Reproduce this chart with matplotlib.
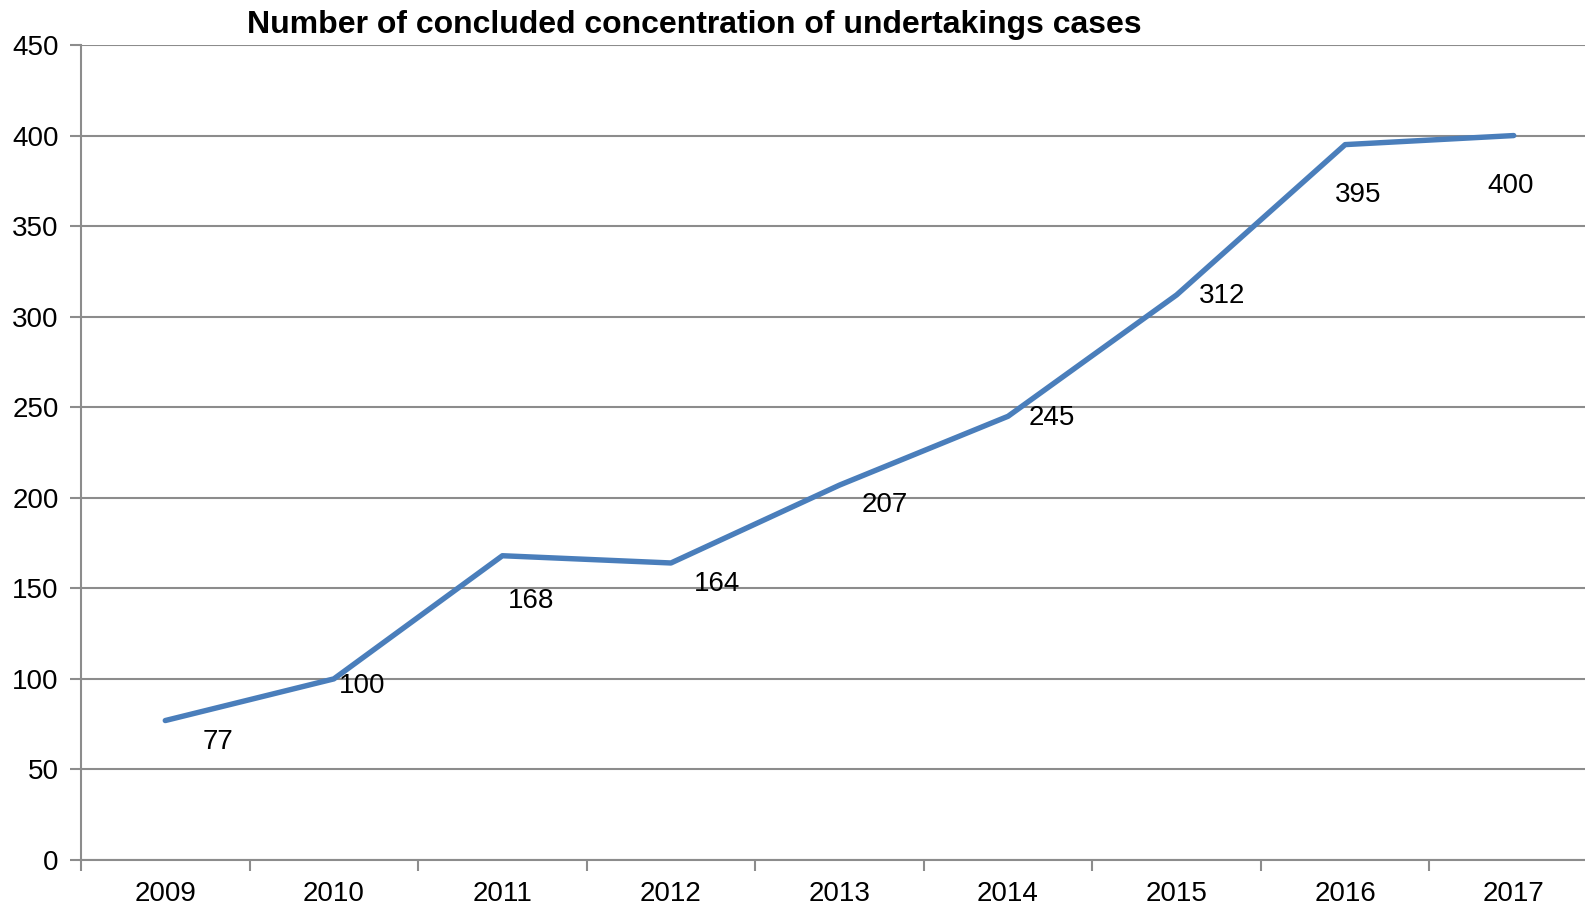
import matplotlib.pyplot as plt
import numpy as np

plt.rcParams['font.family'] = ['Liberation Sans', 'DejaVu Sans']

years = ['2009', '2010', '2011', '2012', '2013', '2014', '2015', '2016', '2017']
cases = [77, 100, 168, 164, 207, 245, 312, 395, 400]
y_ticks = [0, 50, 100, 150, 200, 250, 300, 350, 400, 450]

# label offsets in pixels (dx, dy) relative to the point, like the original
label_offsets = [(53, -21), (28, -7), (29, -45), (46, -21), (45, -20),
                 (44, -2), (45, -1), (13, -50), (-3, -50)]

grey = '#8c8c8c'
blue = '#4a7ebb'

fig = plt.figure(figsize=(15.85, 9.05), dpi=100)
ax = fig.add_axes([81 / 1585, 45 / 905, 1517 / 1585, 815 / 905])

x = np.arange(len(years))
ax.plot(x, cases, color=blue, linewidth=3.9, solid_capstyle='round', zorder=3)

for xi, v, (dx, dy) in zip(x, cases, label_offsets):
    ax.annotate(str(v), (xi, v), xytext=(dx, dy), textcoords='offset pixels',
                ha='center', va='center', fontsize=20, color='black')

ax.set_xlim(-0.5, len(years) - 0.5)
ax.set_ylim(0, 450)
ax.set_yticks(y_ticks)
ax.yaxis.grid(True, color=grey, linewidth=1.5)
ax.set_axisbelow(True)

ax.set_xticks(x)
ax.set_xticklabels(years)
ax.set_xticks(np.arange(-0.5, len(years), 1), minor=True)
ax.tick_params(axis='x', which='major', length=0, labelsize=20, pad=15)
ax.tick_params(axis='x', which='minor', length=8, width=1.5, color=grey)
ax.tick_params(axis='y', length=8, width=1.5, color=grey, labelsize=20, pad=8)

for side in ['top', 'right']:
    ax.spines[side].set_visible(False)
for side in ['left', 'bottom']:
    ax.spines[side].set_color(grey)
    ax.spines[side].set_linewidth(1.5)

fig.text(0.438, 0.972, 'Number of concluded concentration of undertakings cases',
         ha='center', va='center', fontsize=23, fontweight='bold')

fig.savefig('out.png', dpi=100)
